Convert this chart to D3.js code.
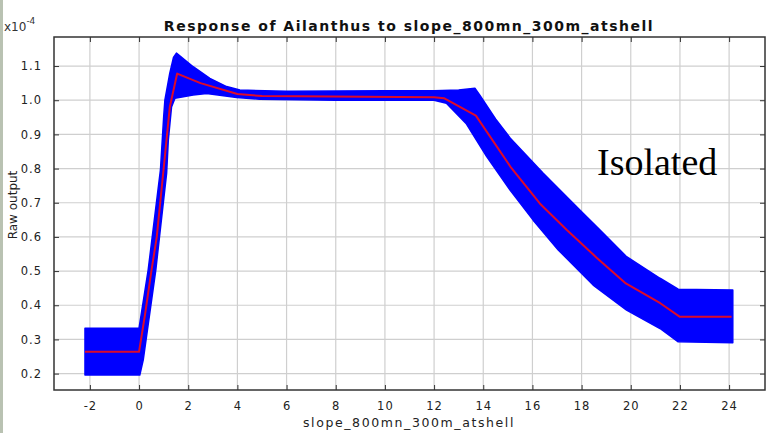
<!DOCTYPE html>
<html>
<head>
<meta charset="utf-8">
<script src="https://cdn.jsdelivr.net/npm/d3@7"></script>
<style>
  body { margin: 0; background: #fff; }
  text { font-family: "DejaVu Sans", sans-serif; }
</style>
</head>
<body>
<script>
var width = 768,
    height = 433;

// mean response (red line), values in units of 1e-4
let mean_x = [-2.2, 0, 0.25, 0.5, 0.72, 0.86, 1.0, 1.25, 1.55, 2.5, 4, 5, 12, 12.4, 13.7, 15.1, 16.3, 17.4, 18.6, 19.8, 21.2, 22, 24.1];
let mean_y = [0.264, 0.264, 0.376, 0.50, 0.60, 0.70, 0.80, 0.98, 1.078, 1.05, 1.018, 1.012, 1.009, 1.006, 0.955, 0.806, 0.698, 0.62, 0.54, 0.464, 0.406, 0.366, 0.366];

// upper envelope of the blue band
let upper_x = [-2.2, 0, 0.37, 0.87, 1.0, 1.05, 1.25, 1.4, 1.52, 2.2, 2.88, 3.56, 4.1, 6, 8, 10, 12, 13.0, 13.66, 13.86, 14.5, 15.1, 16.44, 17.93, 18.75, 19.83, 21.19, 21.93, 24.15];
let upper_y = [0.333, 0.333, 0.503, 0.796, 0.95, 1.0, 1.079, 1.125, 1.138, 1.098, 1.064, 1.04, 1.03, 1.026, 1.027, 1.028, 1.028, 1.03, 1.035, 1.015, 0.945, 0.889, 0.786, 0.679, 0.62, 0.542, 0.479, 0.447, 0.445];

// lower envelope of the blue band
let lower_x = [-2.2, 0.03, 0.17, 0.68, 1.12, 1.19, 1.32, 1.46, 2.2, 2.75, 3.97, 4.9, 8, 12, 12.5, 13.3, 14.14, 15.09, 16.03, 17.05, 18.47, 19.83, 21.19, 21.93, 24.15];
let lower_y = [0.196, 0.196, 0.24, 0.503, 0.786, 0.884, 0.98, 1.006, 1.015, 1.02, 1.008, 1.003, 1.0, 1.0, 0.991, 0.932, 0.835, 0.737, 0.649, 0.562, 0.459, 0.386, 0.332, 0.293, 0.29];

let x_ticks = [-2, 0, 2, 4, 6, 8, 10, 12, 14, 16, 18, 20, 22, 24];
let y_ticks = [0.2, 0.3, 0.4, 0.5, 0.6, 0.7, 0.8, 0.9, 1.0, 1.1];

let title = "Response of Ailanthus to slope_800mn_300m_atshell";
let x_title = "slope_800mn_300m_atshell";
let y_title = "Raw output";

var margin = {left: 54, right: 3, top: 37, bottom: 43};

var svg = d3.select("body").append("svg")
    .attr("width", width)
    .attr("height", height);

svg.append("rect")
    .attr("width", width).attr("height", height)
    .attr("fill", "#fff");
// thin greyish strip at the very left
svg.append("rect")
    .attr("width", 3).attr("height", height)
    .attr("fill", "#b9c2b2");

let x = d3.scaleLinear()
    .domain([-3.46, 25.46])
    .range([margin.left, width - margin.right]);
let y = d3.scaleLinear()
    .domain([0.152, 1.185])
    .range([height - margin.bottom, margin.top]);

// grid
svg.append("g")
    .selectAll("line")
    .data(x_ticks)
    .join("line")
    .attr("x1", d => x(d)).attr("x2", d => x(d))
    .attr("y1", y.range()[1]).attr("y2", y.range()[0])
    .attr("stroke", "#cfcfcf")
    .attr("stroke-width", 1.2);
svg.append("g")
    .selectAll("line")
    .data(y_ticks)
    .join("line")
    .attr("x1", x.range()[0]).attr("x2", x.range()[1])
    .attr("y1", d => y(d)).attr("y2", d => y(d))
    .attr("stroke", "#cfcfcf")
    .attr("stroke-width", 1.2);

// band
let upper = upper_x.map((d, i) => [d, upper_y[i]]);
let lower = lower_x.map((d, i) => [d, lower_y[i]]).reverse();
let line = d3.line()
    .x(d => x(d[0]))
    .y(d => y(d[1]));
svg.append("path")
    .attr("d", line(upper.concat(lower)) + "Z")
    .attr("fill", "#0000ff")
    .attr("stroke", "#0000ff")
    .attr("stroke-width", 1.5)
    .attr("stroke-linejoin", "round");

svg.append("path")
    .attr("d", line(mean_x.map((d, i) => [d, mean_y[i]])))
    .attr("fill", "none")
    .attr("stroke", "#dd0a2a")
    .attr("stroke-width", 2)
    .attr("stroke-linejoin", "round");

// axes with inward ticks on all sides
svg.append("g")
    .attr("transform", "translate(0," + y.range()[0] + ")")
    .call(d3.axisBottom(x).tickValues(x_ticks).tickSizeInner(-5).tickSizeOuter(0).tickPadding(12)
        .tickFormat(d => String(d)))
    .call(g => g.select(".domain").remove());
svg.append("g")
    .attr("transform", "translate(0," + y.range()[1] + ")")
    .call(d3.axisTop(x).tickValues(x_ticks).tickSizeInner(-5).tickSizeOuter(0).tickFormat(""))
    .call(g => g.select(".domain").remove());
svg.append("g")
    .attr("transform", "translate(" + x.range()[0] + ",0)")
    .call(d3.axisLeft(y).tickValues(y_ticks).tickSizeInner(-5).tickSizeOuter(0).tickPadding(12).tickFormat(d3.format(".1f")))
    .call(g => g.select(".domain").remove());
svg.append("g")
    .attr("transform", "translate(" + x.range()[1] + ",0)")
    .call(d3.axisRight(y).tickValues(y_ticks).tickSizeInner(-5).tickSizeOuter(0).tickFormat(""))
    .call(g => g.select(".domain").remove());

svg.selectAll(".tick line").attr("stroke", "#333");
svg.selectAll(".tick text")
    .style("font-size", "11.5px")
    .style("letter-spacing", "1px")
    .attr("fill", "#222");

svg.append("rect")
    .attr("x", x.range()[0]).attr("y", y.range()[1])
    .attr("width", x.range()[1] - x.range()[0])
    .attr("height", y.range()[0] - y.range()[1])
    .attr("fill", "none")
    .attr("stroke", "#333")
    .attr("stroke-width", 1.5);

// texts
svg.append("text")
    .attr("x", 409).attr("y", 31)
    .attr("text-anchor", "middle")
    .style("font-size", "14px")
    .style("font-weight", "bold")
    .style("letter-spacing", "1.5px")
    .attr("fill", "#111")
    .text(title);

let mult = svg.append("text")
    .attr("x", 4).attr("y", 31)
    .style("font-size", "12px")
    .attr("fill", "#333");
mult.append("tspan").text("x10");
mult.append("tspan").attr("dy", -7).style("font-size", "9px").text("-4");

svg.append("text")
    .attr("x", 409).attr("y", 427)
    .attr("text-anchor", "middle")
    .style("font-size", "12.5px")
    .style("letter-spacing", "1.6px")
    .attr("fill", "#222")
    .text(x_title);

svg.append("text")
    .attr("transform", "translate(17,205) rotate(-90)")
    .attr("text-anchor", "middle")
    .style("font-size", "12px")
    .attr("fill", "#222")
    .text(y_title);

svg.append("text")
    .attr("x", 597).attr("y", 175)
    .style("font-family", '"Liberation Serif", serif')
    .style("font-size", "38px")
    .attr("fill", "#000")
    .text("Isolated");
</script>
</body>
</html>
